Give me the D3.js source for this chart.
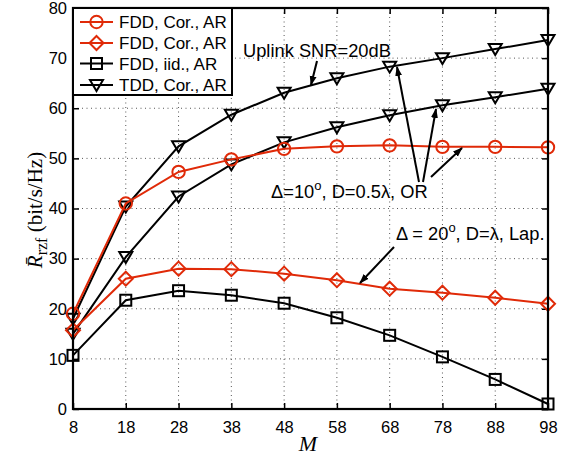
<!DOCTYPE html>
<html>
<head>
<meta charset="utf-8">
<script src="https://cdn.jsdelivr.net/npm/d3@7"></script>
<style>
  html, body { margin: 0; padding: 0; background: #fff; }
  svg { display: block; }
</style>
</head>
<body>
<svg id="chart" width="570" height="459"></svg>
<script>
// ---- data ----
const M = [8, 18, 28, 38, 48, 58, 68, 78, 88, 98];
const xTicks = [8, 18, 28, 38, 48, 58, 68, 78, 88, 98];
const yTicks = [0, 10, 20, 30, 40, 50, 60, 70, 80];
const fddCorOR  = [19.0, 41.0, 47.3, 49.8, 51.9, 52.4, 52.6, 52.3, 52.3, 52.2];
const fddCorLap = [15.7, 26.0, 28.0, 27.9, 27.0, 25.7, 24.0, 23.2, 22.2, 21.0];
const fddIid    = [10.7, 21.7, 23.6, 22.7, 21.1, 18.2, 14.7, 10.4, 5.9, 1.0];
const tddCorUp  = [18.0, 40.4, 52.4, 58.7, 63.1, 66.0, 68.3, 70.0, 71.8, 73.6];
const tddCorLow = [15.0, 30.3, 42.4, 48.8, 53.2, 56.2, 58.6, 60.6, 62.2, 63.9];
const legendLabels = ["FDD, Cor., AR", "FDD, Cor., AR", "FDD, iid., AR", "TDD, Cor., AR"];

const RED = "#e02a08";
const series = [
  { vals: tddCorLow, color: "#000", marker: "tri" },
  { vals: tddCorUp,  color: "#000", marker: "tri" },
  { vals: fddIid,    color: "#000", marker: "sq" },
  { vals: fddCorLap, color: RED,   marker: "dia" },
  { vals: fddCorOR,  color: RED,   marker: "circ" }
];

const svg = d3.select("#chart");
const L = 73, R = 548, T = 8, B = 409;
const x = d3.scaleLinear().domain([8, 98]).range([L, R]);
const y = d3.scaleLinear().domain([0, 80]).range([B, T]);
const tickFont = "'Liberation Sans', Arial, Helvetica, sans-serif";

// grid
const grid = svg.append("g");
grid.selectAll(".gx").data(xTicks.slice(1, -1)).enter().append("line")
  .attr("x1", d => x(d)).attr("x2", d => x(d)).attr("y1", T).attr("y2", B)
  .attr("stroke", "#555").attr("stroke-width", 1).attr("stroke-dasharray", "1,3.5");
grid.selectAll(".gy").data(yTicks.slice(1, -1)).enter().append("line")
  .attr("y1", d => y(d)).attr("y2", d => y(d)).attr("x1", L).attr("x2", R)
  .attr("stroke", "#555").attr("stroke-width", 1).attr("stroke-dasharray", "1,3.5");

// axes
const xAxis = d3.axisBottom(x).tickValues(xTicks).tickSize(-6).tickPadding(12).tickSizeOuter(0);
const yAxis = d3.axisLeft(y).tickValues(yTicks).tickSize(-6).tickPadding(6).tickSizeOuter(0);
const xTop = d3.axisTop(x).tickValues(xTicks).tickSize(-6).tickFormat("").tickSizeOuter(0);
const yRight = d3.axisRight(y).tickValues(yTicks).tickSize(-6).tickFormat("").tickSizeOuter(0);

function styleAxis(g) {
  g.select(".domain").remove();
  g.selectAll(".tick line").attr("stroke", "#000").attr("stroke-width", 1.5);
  g.selectAll(".tick text").attr("fill", "#000").style("font-family", tickFont).style("font-size", "16.5px");
}
svg.append("g").attr("transform", `translate(0,${B})`).call(xAxis).call(styleAxis);
svg.append("g").attr("transform", `translate(${L},0)`).call(yAxis).call(styleAxis);
svg.append("g").attr("transform", `translate(0,${T})`).call(xTop).call(styleAxis);
svg.append("g").attr("transform", `translate(${R},0)`).call(yRight).call(styleAxis);

// series
const line = d3.line().x((d, i) => x(M[i])).y(d => y(d));
function drawMarker(g, type, cx, cy, color) {
  const s = g.append("g").attr("transform", `translate(${cx},${cy})`);
  const common = sel => sel.attr("fill", "none").attr("stroke", color).attr("stroke-width", 2);
  if (type === "circ") s.append("circle").attr("r", 6.2).call(common);
  if (type === "sq") s.append("rect").attr("x", -5.5).attr("y", -5.5).attr("width", 11).attr("height", 11).call(common);
  if (type === "dia") s.append("path").attr("d", "M0,-7L7,0L0,7L-7,0Z").call(common);
  if (type === "tri") s.append("path").attr("d", "M-6.5,-5L6.5,-5L0,6Z").call(common);
}
series.forEach(sr => {
  const g = svg.append("g");
  g.append("path").datum(sr.vals).attr("d", line)
    .attr("fill", "none").attr("stroke", sr.color).attr("stroke-width", 2);
  sr.vals.forEach((v, i) => drawMarker(g, sr.marker, x(M[i]), y(v), sr.color));
});

// box
svg.append("rect").attr("x", L).attr("y", T).attr("width", R - L).attr("height", B - T)
  .attr("fill", "none").attr("stroke", "#000").attr("stroke-width", 2.2);

// legend
const lg = svg.append("g");
lg.append("rect").attr("x", 73).attr("y", 8).attr("width", 159).attr("height", 87)
  .attr("fill", "#fff").attr("stroke", "#000").attr("stroke-width", 2);
const legMarkers = [
  { color: RED, marker: "circ" }, { color: RED, marker: "dia" },
  { color: "#000", marker: "sq" }, { color: "#000", marker: "tri" }
];
const legY = [22, 43, 63.5, 85];
legMarkers.forEach((m, i) => {
  lg.append("line").attr("x1", 80).attr("x2", 113).attr("y1", legY[i]).attr("y2", legY[i])
    .attr("stroke", m.color).attr("stroke-width", 2);
  drawMarker(lg, m.marker, 96.5, legY[i], m.color);
  lg.append("text").attr("x", 119).attr("y", legY[i]).attr("dy", "0.36em")
    .style("font-family", tickFont).style("font-size", "17px").text(legendLabels[i]);
});

// annotations
const defs = svg.append("defs");
defs.append("marker").attr("id", "ah").attr("viewBox", "0 0 10 10").attr("refX", 9).attr("refY", 5)
  .attr("markerWidth", 5).attr("markerHeight", 5).attr("orient", "auto-start-reverse")
  .attr("markerUnits", "strokeWidth")
  .append("path").attr("d", "M0,1.5L10,5L0,8.5Z").attr("fill", "#000");
function arrow(x1, y1, x2, y2) {
  svg.append("line").attr("x1", x1).attr("y1", y1).attr("x2", x2).attr("y2", y2)
    .attr("stroke", "#000").attr("stroke-width", 2).attr("marker-end", "url(#ah)");
}
const annFont = tickFont;
svg.append("text").attr("x", 243).attr("y", 57).style("font-family", annFont).style("font-size", "18.3px")
  .text("Uplink SNR=20dB");
arrow(317, 61, 311, 85);

const t1 = svg.append("text").attr("x", 271).attr("y", 198).style("font-family", annFont).style("font-size", "18.3px");
t1.append("tspan").text("Δ=10");
t1.append("tspan").attr("dy", -8).style("font-size", "13px").text("o");
t1.append("tspan").attr("dy", 8).text(", D=0.5λ, OR");
arrow(419, 182, 397, 67);
arrow(423, 182, 436, 109);
arrow(431, 177, 462, 148);

const t2 = svg.append("text").attr("x", 396).attr("y", 240).style("font-family", annFont).style("font-size", "18.3px");
t2.append("tspan").text("Δ = 20");
t2.append("tspan").attr("dy", -8).style("font-size", "13px").text("o");
t2.append("tspan").attr("dy", 8).text(", D=λ, Lap.");
arrow(394, 247, 360, 283);

// axis labels
svg.append("text").attr("x", 308).attr("y", 451).attr("text-anchor", "middle")
  .style("font-family", "'Liberation Serif', 'Times New Roman', serif").style("font-style", "italic")
  .style("font-size", "22px").text("M");

const yl = svg.append("text").attr("transform", "translate(42,210) rotate(-90)").attr("text-anchor", "middle")
  .style("font-family", "'Liberation Serif', 'Times New Roman', serif").style("font-size", "21px");
yl.append("tspan").style("font-style", "italic").text("R\u0304");
yl.append("tspan").attr("dy", 5).style("font-size", "16px").text("rzf");
yl.append("tspan").attr("dy", -5).text(" (bit/s/Hz)");
</script>
</body>
</html>
